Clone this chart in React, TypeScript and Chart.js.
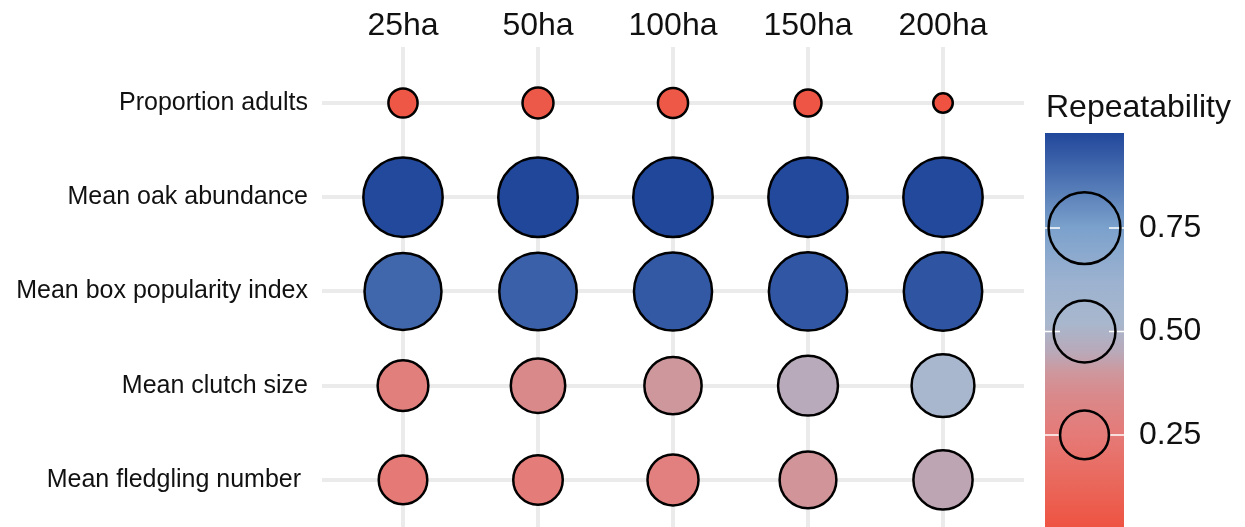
import React, { useEffect, useRef } from "react";
import { Chart, registerables } from "chart.js";

Chart.register(...registerables);

// ---------- data ----------
const areas = ["25ha", "50ha", "100ha", "150ha", "200ha"];
const traits = [
  "Proportion adults",
  "Mean oak abundance",
  "Mean box popularity index",
  "Mean clutch size",
  "Mean fledgling number ",
];
const proportionAdults = [0.045, 0.055, 0.05, 0.035, 0.02];
const meanOakAbundance = [0.975, 0.98, 0.98, 0.975, 0.975];
const meanBoxPopularity = [0.9, 0.915, 0.935, 0.94, 0.945];
const meanClutchSize = [0.28, 0.345, 0.4, 0.455, 0.52];
const meanFledglingNumber = [0.245, 0.26, 0.285, 0.39, 0.44];
const legendBreaks = [0.25, 0.5, 0.75];
const legendTitle = "Repeatability";

const traitValues = [
  proportionAdults,
  meanOakAbundance,
  meanBoxPopularity,
  meanClutchSize,
  meanFledglingNumber,
];

const allValues = traitValues.flat();
const vMin = Math.min(...allValues);
const vMax = Math.max(...allValues);

// colour scale (value -> colour)
const colorStops: [number, string][] = [
  [0.02, "#EF5240"],
  [0.12, "#EA6558"],
  [0.25, "#E57A77"],
  [0.35, "#D98A8C"],
  [0.4, "#CE979C"],
  [0.45, "#B9A9B9"],
  [0.52, "#A8B7CD"],
  [0.62, "#9CB2D0"],
  [0.75, "#7BA1CC"],
  [0.98, "#21479B"],
];

const FONT = '"Liberation Sans", Arial, Helvetica, sans-serif';
const STROKE = 2.5;

function hexToRgb(h: string) {
  const n = parseInt(h.slice(1), 16);
  return [(n >> 16) & 255, (n >> 8) & 255, n & 255];
}

function colorOf(v: number) {
  if (v <= colorStops[0][0]) return colorStops[0][1];
  for (let i = 1; i < colorStops.length; i++) {
    const [v1, c1] = colorStops[i];
    const [v0, c0] = colorStops[i - 1];
    if (v <= v1) {
      const f = (v - v0) / (v1 - v0);
      const a = hexToRgb(c0);
      const b = hexToRgb(c1);
      const m = a.map((x, k) => Math.round(x + (b[k] - x) * f));
      return `rgb(${m[0]},${m[1]},${m[2]})`;
    }
  }
  return colorStops[colorStops.length - 1][1];
}

// area-proportional size scale, returns outer radius
function outerRadius(v: number) {
  const t = Math.max(0, Math.min(1, (v - vMin) / (vMax - vMin)));
  return 11 + 30 * Math.sqrt(t);
}

const legendPlugin = {
  id: "repeatabilityLegend",
  afterDraw(chart: any) {
    const ctx = chart.ctx as CanvasRenderingContext2D;
    const barLeft = 1045;
    const barWidth = 79;
    const barTop = 133;
    const barBottom = 530;
    const yOf = (v: number) =>
      barBottom - ((v - vMin) / (vMax - vMin)) * (barBottom - barTop);
    ctx.save();
    // title
    ctx.fillStyle = "#111";
    ctx.font = `32px ${FONT}`;
    ctx.textAlign = "left";
    ctx.textBaseline = "alphabetic";
    ctx.fillText(legendTitle, barLeft + 1, 117);
    // gradient
    const g = ctx.createLinearGradient(0, barBottom, 0, barTop);
    colorStops.forEach(([v, c]) => {
      const p = Math.max(0, Math.min(1, (v - vMin) / (vMax - vMin)));
      g.addColorStop(p, c);
    });
    ctx.fillStyle = g;
    ctx.fillRect(barLeft, barTop, barWidth, barBottom - barTop);
    // ticks
    ctx.strokeStyle = "#FFFFFF";
    ctx.lineWidth = 1.5;
    legendBreaks.forEach((v) => {
      const y = yOf(v);
      ctx.beginPath();
      ctx.moveTo(barLeft, y);
      ctx.lineTo(barLeft + 15, y);
      ctx.moveTo(barLeft + barWidth - 15, y);
      ctx.lineTo(barLeft + barWidth, y);
      ctx.stroke();
    });
    // circles
    ctx.strokeStyle = "#000";
    ctx.lineWidth = STROKE;
    legendBreaks.forEach((v) => {
      const y = yOf(v);
      ctx.beginPath();
      ctx.arc(barLeft + barWidth / 2, y, outerRadius(v) - STROKE / 2, 0, Math.PI * 2);
      ctx.stroke();
    });
    // labels
    ctx.fillStyle = "#111";
    ctx.font = `32px ${FONT}`;
    ctx.textBaseline = "middle";
    legendBreaks.forEach((v) => {
      ctx.fillText(v.toFixed(2), 1139, yOf(v));
    });
    ctx.restore();
  },
};

export default function App() {
  const ref = useRef<HTMLCanvasElement | null>(null);

  useEffect(() => {
    if (!ref.current) return;
    const data: any[] = [];
    traitValues.forEach((row, j) => {
      row.forEach((v, i) => {
        data.push({ x: i, y: j, r: outerRadius(v) - STROKE / 2, v });
      });
    });

    const chart = new Chart(ref.current, {
      type: "bubble",
      data: {
        datasets: [
          {
            label: legendTitle,
            data,
            backgroundColor: (c: any) => colorOf(c.raw ? c.raw.v : 0),
            borderColor: "#000",
            borderWidth: STROKE,
            clip: false,
          } as any,
        ],
      },
      plugins: [legendPlugin],
      options: {
        animation: false,
        responsive: false,
        events: [],
        layout: { autoPadding: false, padding: { left: 0, right: 221, top: 0, bottom: 0 } },
        plugins: {
          legend: { display: false },
          tooltip: { enabled: false },
        },
        scales: {
          x: {
            type: "linear",
            position: "top",
            min: -0.6,
            max: 4.6,
            afterBuildTicks: (s: any) => {
              s.ticks = areas.map((_, i) => ({ value: i }));
            },
            afterFit: (s: any) => {
              s.height = 46.5;
              s.paddingLeft = 0;
              s.paddingRight = 0;
              s.paddingTop = 0;
              s.paddingBottom = 0;
            },
            ticks: {
              callback: (v: any) => areas[v as number],
              font: { family: FONT, size: 32 },
              color: "#111",
              padding: 1,
              maxRotation: 0,
              autoSkip: false,
            },
            grid: { color: "#EBEBEB", lineWidth: 4, drawTicks: false },
            border: { display: false },
          },
          y: {
            type: "linear",
            reverse: true,
            min: -0.6,
            max: 4.5,
            afterBuildTicks: (s: any) => {
              s.ticks = traits.map((_, i) => ({ value: i }));
            },
            afterFit: (s: any) => {
              s.width = 322;
              s.paddingLeft = 0;
              s.paddingRight = 0;
              s.paddingTop = 0;
              s.paddingBottom = 0;
            },
            ticks: {
              callback: (v: any) => traits[v as number],
              font: { family: FONT, size: 25 },
              color: "#111",
              padding: 14,
              autoSkip: false,
            },
            grid: { color: "#EBEBEB", lineWidth: 4, drawTicks: false },
            border: { display: false },
          },
        },
      } as any,
    });
    return () => chart.destroy();
  }, []);

  return (
    <div style={{ position: "absolute", left: 0, top: 0, width: 1245, height: 527, background: "#fff" }}>
      <canvas ref={ref} width={1245} height={527} style={{ width: 1245, height: 527, display: "block" }} />
    </div>
  );
}
